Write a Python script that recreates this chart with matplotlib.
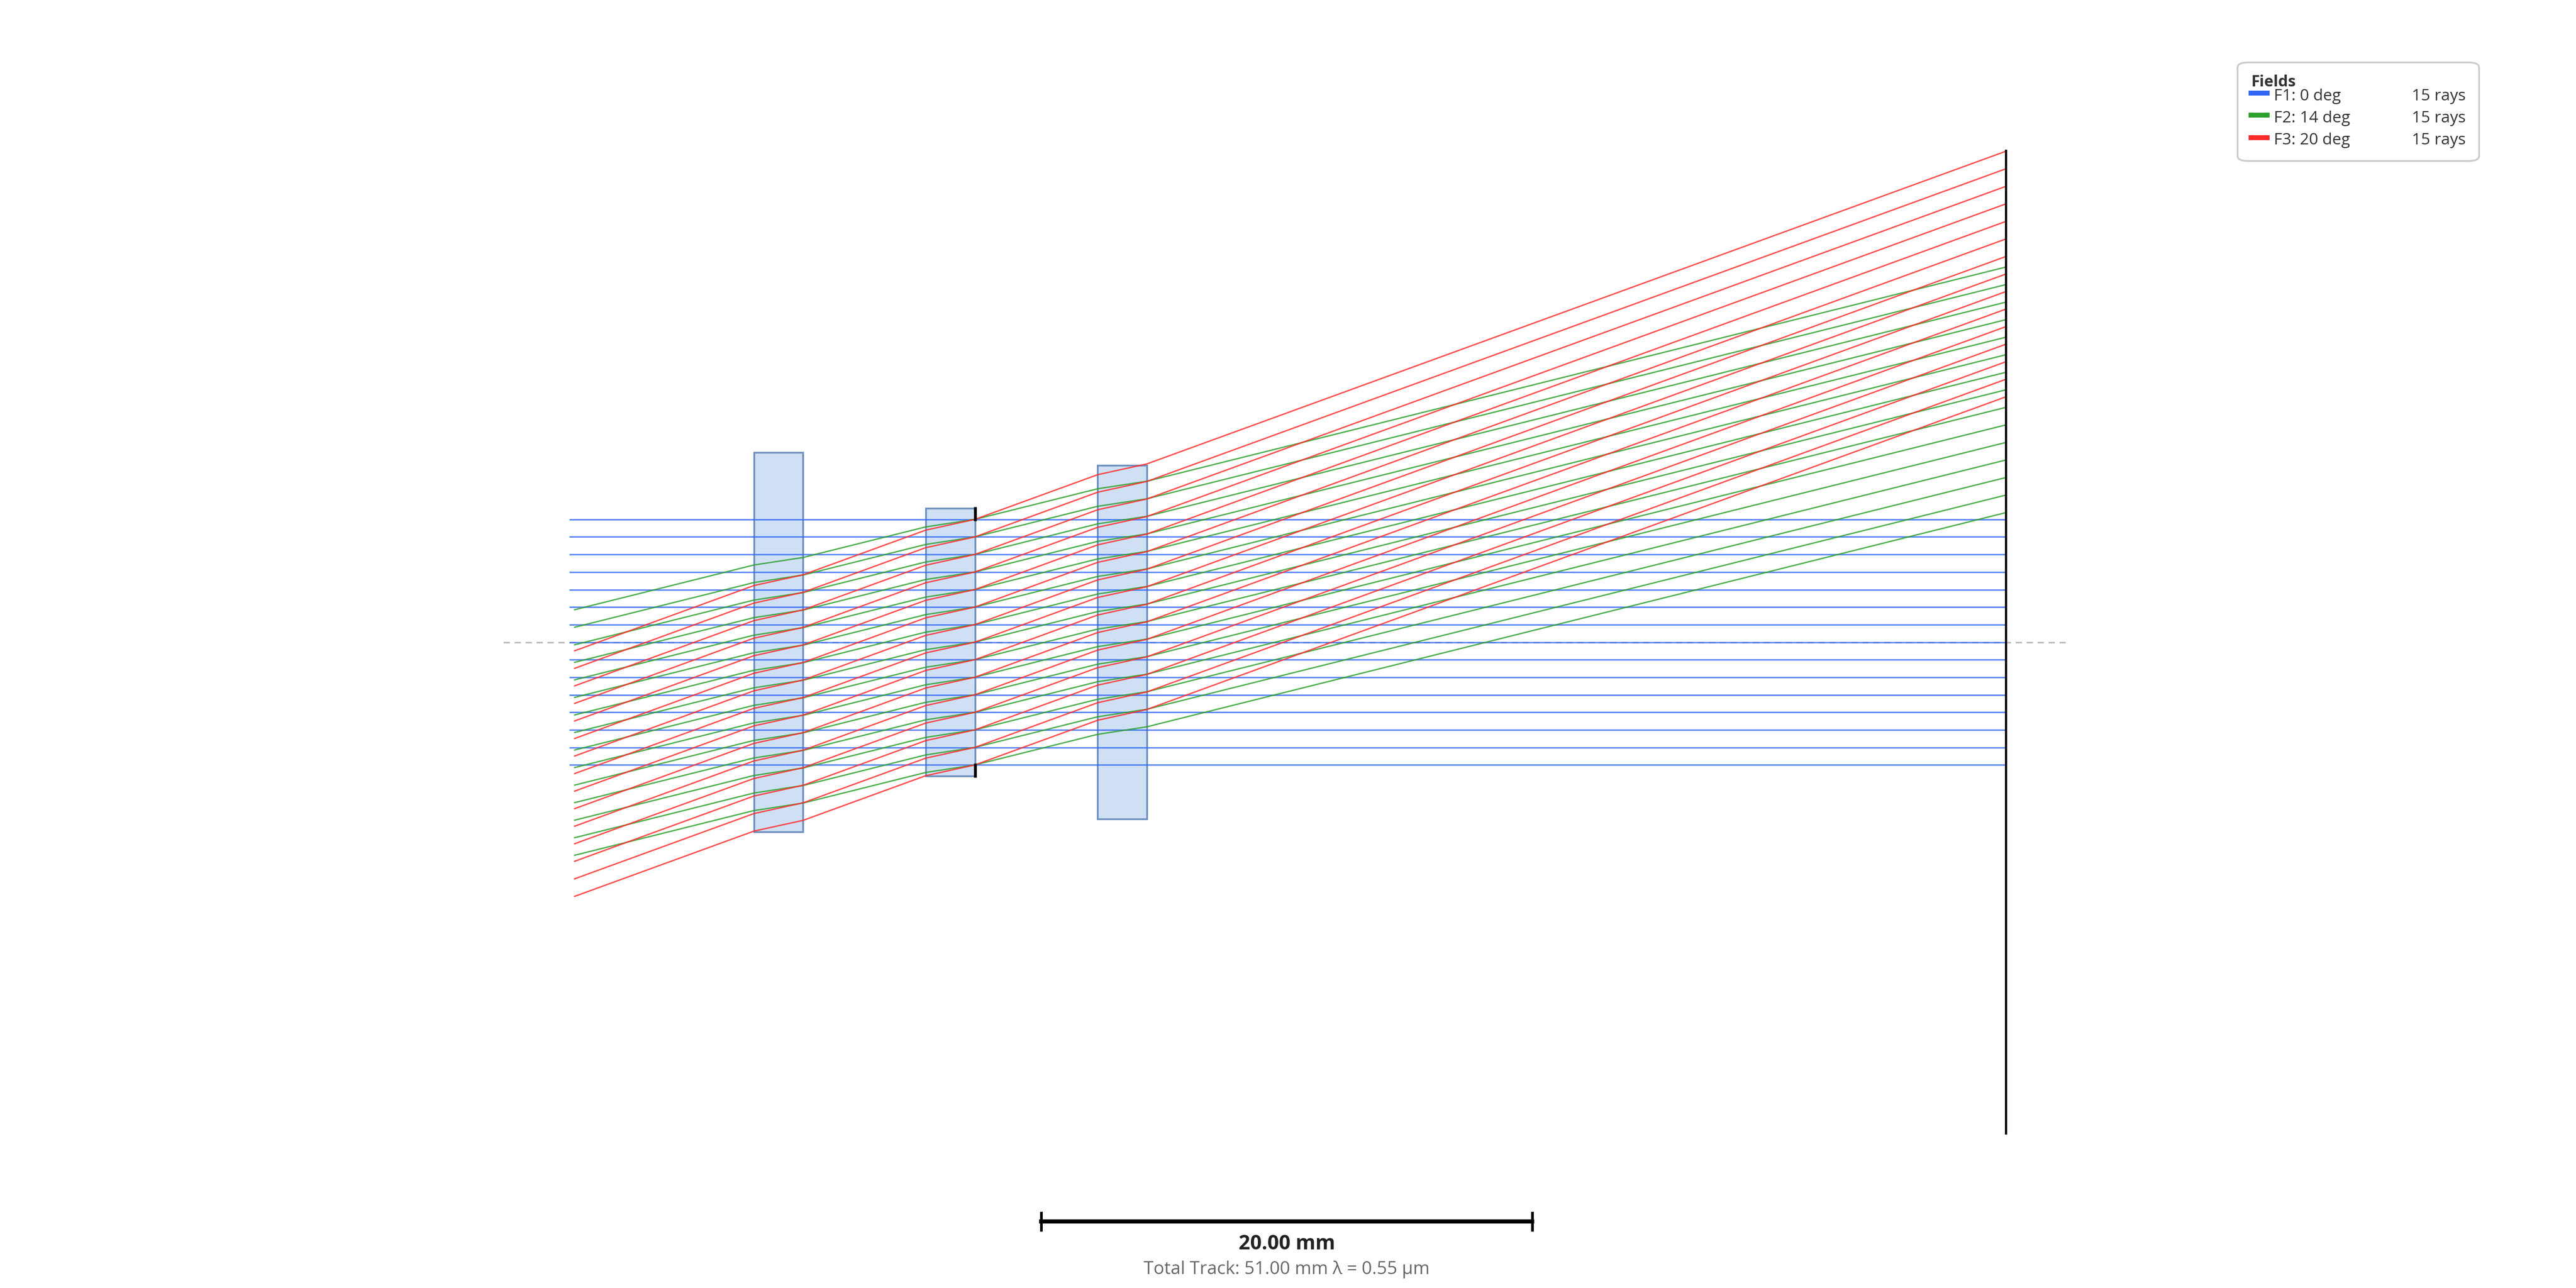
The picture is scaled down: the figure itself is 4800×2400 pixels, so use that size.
import numpy as np
import matplotlib.pyplot as plt
from matplotlib.patches import Rectangle, FancyBboxPatch
from matplotlib.lines import Line2D

plt.rcParams['font.family'] = ['Open Sans', 'DejaVu Sans']

# system data (mm)
plate_z = [0.0, 7.0, 14.0]
plate_t = [2.0, 2.0, 2.0]
plate_h = [7.73, 5.45, 7.2]
glass_n = 1.6
stop_z = 9.0
stop_r = 5.0
image_z = 51.0
image_h = 20.0
field_deg = [0, 14, 20]
field_lbl = ["F1: 0 deg", "F2: 14 deg", "F3: 20 deg"]
field_col = ["#2f66f5", "#2ca02c", "#ff2a2a"]
n_rays = 15
start_z = [-7.5, -7.3, -7.3]


def slope_at(z, ang):
    s = np.sin(np.radians(ang))
    for pz, pt in zip(plate_z, plate_t):
        if pz <= z < pz + pt:
            return np.tan(np.arcsin(s / glass_n))
    return np.tan(np.radians(ang))


def trace(y_stop, ang, z0):
    # breakpoints
    bps = sorted(set([z0, image_z] + plate_z + [p + t for p, t in zip(plate_z, plate_t)]))
    bps = [b for b in bps if z0 <= b <= image_z]
    if stop_z not in bps:
        bps = sorted(bps + [stop_z])
    ys = {stop_z: y_stop}
    i0 = bps.index(stop_z)
    for i in range(i0, len(bps) - 1):
        a, b = bps[i], bps[i + 1]
        ys[b] = ys[a] + slope_at((a + b) / 2, ang) * (b - a)
    for i in range(i0, 0, -1):
        a, b = bps[i - 1], bps[i]
        ys[a] = ys[b] - slope_at((a + b) / 2, ang) * (b - a)
    return bps, [ys[b] for b in bps]


fig = plt.figure(figsize=(16, 8), dpi=300)
ax = fig.add_axes([0, 0, 1, 1])
ax.set_xlim(-30.7, 74.2)
ax.set_ylim(-26.3, 26.15)
ax.axis('off')

ax.plot([-10.2, 53.6], [0, 0], ls=(0, (4, 3)), color='#bbbbbb', lw=0.7, zorder=1)

for pz, pt, ph in zip(plate_z, plate_t, plate_h):
    ax.add_patch(Rectangle((pz, -ph), pt, 2 * ph, facecolor='#cfe0f4',
                           edgecolor='#6e90bf', lw=0.8, zorder=2))

heights = np.linspace(-stop_r, stop_r, n_rays)
for ang, col, z0 in zip(field_deg, field_col, start_z):
    for h in heights:
        zs, ys = trace(h, ang, z0)
        ax.plot(zs, ys, color=col, lw=0.6, alpha=0.85, zorder=3)

for sgn in (1, -1):
    ax.plot([stop_z, stop_z], [sgn * stop_r, sgn * plate_h[1]], color='black', lw=1.3, zorder=4)

ax.plot([image_z, image_z], [-image_h, image_h], color='black', lw=1.0, zorder=4)

# scale bar
sb0, sb1, sby = 11.7, 31.7, -23.6
ax.plot([sb0, sb1], [sby, sby], color='black', lw=1.8)
for x in (sb0, sb1):
    ax.plot([x, x], [sby - 0.35, sby + 0.35], color='black', lw=1.2)
ax.text((sb0 + sb1) / 2, -24.5, "20.00 mm", ha='center', va='center',
        fontsize=9, fontweight='bold', color='#222222')
ax.text((sb0 + sb1) / 2, -25.55, "Total Track: 51.00 mm \u03bb = 0.55 \u00b5m", ha='center',
        va='center', fontsize=8, color='#666666')

# legend box
fig.patches.append(FancyBboxPatch((1362 / 1568, 1 - 98 / 784), 147 / 1568, 60 / 784,
                                  boxstyle="round,pad=0,rounding_size=0.004",
                                  transform=fig.transFigure, facecolor='white',
                                  edgecolor='#cccccc', lw=0.8))
fig.text(1370 / 1568, 1 - 50 / 784, "Fields", fontsize=7, fontweight='bold',
         color='#333333', va='center')
for i, (lbl, col) in enumerate(zip(field_lbl, field_col)):
    yy = 1 - (58.5 + 13.5 * i) / 784
    fig.add_artist(Line2D([1370 / 1568, 1380 / 1568], [yy + 2 / 784, yy + 2 / 784],
                          color=col, lw=2.2, transform=fig.transFigure))
    fig.text(1384 / 1568, yy, lbl, fontsize=7.2, color='#333333', va='center')
    fig.text(1501 / 1568, yy, "15 rays", fontsize=7.2, color='#333333', va='center', ha='right')

fig.savefig("out.png", dpi=300)
